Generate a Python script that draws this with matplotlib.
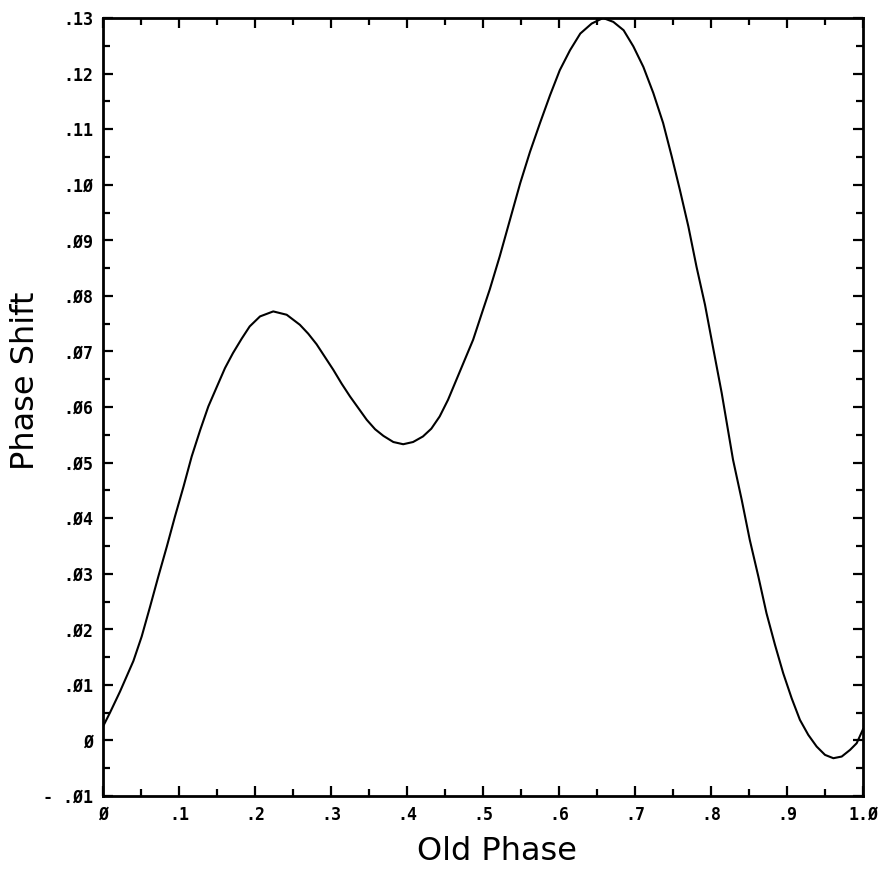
import matplotlib
matplotlib.use("Agg")
import matplotlib.pyplot as plt
from matplotlib.ticker import MultipleLocator, FixedLocator, FixedFormatter

# Data
old_phase = [0.0, 0.0092, 0.0224, 0.040, 0.0509, 0.062, 0.0728, 0.084, 0.0947, 0.106,
             0.1167, 0.128, 0.1386, 0.150, 0.1605, 0.171, 0.1825, 0.193, 0.2066, 0.224,
             0.2417, 0.259, 0.270, 0.281, 0.292, 0.303, 0.314, 0.325, 0.336, 0.347,
             0.358, 0.369, 0.382, 0.395, 0.408, 0.421, 0.432, 0.443, 0.454, 0.465,
             0.476, 0.487, 0.500, 0.509, 0.522, 0.5355, 0.549, 0.5618, 0.575, 0.5882,
             0.601, 0.6145, 0.628, 0.643, 0.658, 0.6715, 0.685, 0.6978, 0.711, 0.7241,
             0.737, 0.7483, 0.759, 0.7702, 0.781, 0.7921, 0.803, 0.8141, 0.829, 0.8404,
             0.851, 0.8623, 0.873, 0.8842, 0.895, 0.9061, 0.917, 0.928, 0.939, 0.950,
             0.961, 0.972, 0.983, 0.9917, 1.0]
phase_shift = [0.0025, 0.0050, 0.0088, 0.0143, 0.0187, 0.0241, 0.0295, 0.0349, 0.0403, 0.0457,
               0.0511, 0.0559, 0.0601, 0.0637, 0.0670, 0.0697, 0.0723, 0.0745, 0.0763, 0.0772,
               0.0766, 0.0748, 0.0732, 0.0713, 0.0690, 0.0667, 0.0642, 0.0619, 0.0598, 0.0577,
               0.0560, 0.0548, 0.0537, 0.0533, 0.0537, 0.0547, 0.0561, 0.0583, 0.0613, 0.0649,
               0.0685, 0.0721, 0.0775, 0.0812, 0.0871, 0.0937, 0.1003, 0.1059, 0.1111, 0.1161,
               0.1206, 0.1242, 0.1272, 0.1290, 0.1300, 0.1293, 0.1278, 0.1249, 0.1212, 0.1165,
               0.1111, 0.1051, 0.0991, 0.0925, 0.0852, 0.0784, 0.0705, 0.0625, 0.0505, 0.0433,
               0.0361, 0.0295, 0.0229, 0.0172, 0.0121, 0.0076, 0.0037, 0.0010, -0.0011, -0.0026,
               -0.0032, -0.0029, -0.0017, -0.0005, 0.0020]

x_ticks = [0.0, 0.1, 0.2, 0.3, 0.4, 0.5, 0.6, 0.7, 0.8, 0.9, 1.0]
x_tick_labels = ["Ø", ".1", ".2", ".3", ".4", ".5", ".6", ".7", ".8", ".9", "1.Ø"]
y_ticks = [-0.01, 0.0, 0.01, 0.02, 0.03, 0.04, 0.05, 0.06, 0.07, 0.08, 0.09,
           0.10, 0.11, 0.12, 0.13]
y_tick_labels = ["- .Ø1", "Ø", ".Ø1", ".Ø2", ".Ø3", ".Ø4", ".Ø5", ".Ø6", ".Ø7", ".Ø8", ".Ø9",
                 ".1Ø", ".11", ".12", ".13"]

fig = plt.figure(figsize=(8.82, 8.90), dpi=100)
ax = fig.add_axes([103 / 882, 1 - 796 / 890, 760 / 882, 778 / 890])

ax.plot(old_phase, phase_shift, color="black", linewidth=1.5)

ax.set_xlim(0, 1)
ax.set_ylim(-0.01, 0.13)

ax.xaxis.set_major_locator(FixedLocator(x_ticks))
ax.xaxis.set_major_formatter(FixedFormatter(x_tick_labels))
ax.xaxis.set_minor_locator(MultipleLocator(0.05))
ax.yaxis.set_major_locator(FixedLocator(y_ticks))
ax.yaxis.set_major_formatter(FixedFormatter(y_tick_labels))
ax.yaxis.set_minor_locator(MultipleLocator(0.005))

ax.tick_params(which="both", direction="in", top=True, right=True, width=1.6,
               color="black")
ax.tick_params(which="major", length=7.5, pad=7)
ax.tick_params(which="minor", length=5)
for lab in ax.get_xticklabels() + ax.get_yticklabels():
    lab.set_fontfamily("DejaVu Sans Mono")
    lab.set_fontsize(12)
    lab.set_fontweight("bold")

for sp in ax.spines.values():
    sp.set_linewidth(2)
    sp.set_color("black")

fig.text(497 / 882, 1 - 851 / 890, "Old Phase", ha="center", va="center",
         fontsize=23, family="DejaVu Sans")
fig.text(26 / 882, 1 - 381 / 890, "Phase Shift", ha="center", va="center",
         rotation=90, fontsize=23, family="DejaVu Sans")

fig.savefig("out.png", dpi=100, facecolor="white")
